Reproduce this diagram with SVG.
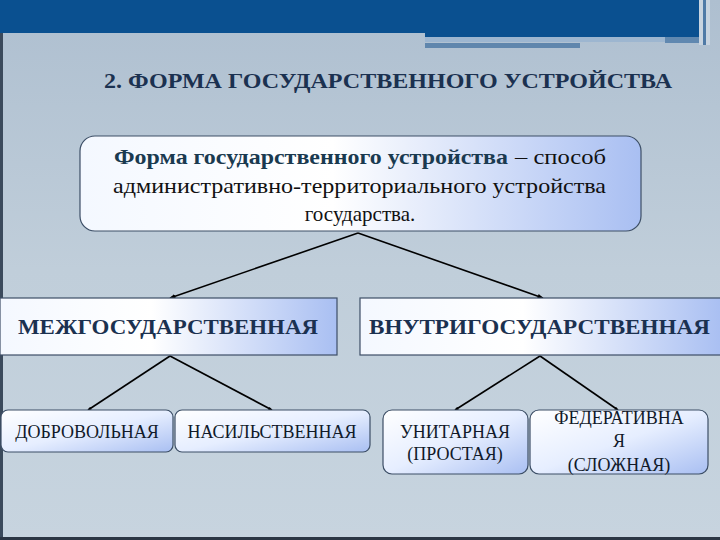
<svg xmlns="http://www.w3.org/2000/svg" width="720" height="540" viewBox="0 0 720 540">
<defs>
<linearGradient id="bg" x1="0" y1="0" x2="0" y2="1">
<stop offset="0" stop-color="#aebfd0"/>
<stop offset="0.5" stop-color="#c0ceda"/>
<stop offset="1" stop-color="#c7d4df"/>
</linearGradient>
<linearGradient id="box" x1="0" y1="0" x2="1" y2="0">
<stop offset="0" stop-color="#f4f8ff"/>
<stop offset="0.45" stop-color="#ffffff"/>
<stop offset="1" stop-color="#a9bff2"/>
</linearGradient>
<linearGradient id="boxv" x1="0" y1="0" x2="1" y2="1">
<stop offset="0" stop-color="#ffffff"/>
<stop offset="0.5" stop-color="#e6eeff"/>
<stop offset="1" stop-color="#a9bff2"/>
</linearGradient>
<marker id="ah" viewBox="0 0 10 10" refX="9" refY="5" markerWidth="6" markerHeight="6" orient="auto" markerUnits="userSpaceOnUse">
<path d="M0,1 L10,5 L0,9 Z" fill="#000"/>
</marker>
<marker id="ahs" viewBox="0 0 10 10" refX="9" refY="5" markerWidth="4" markerHeight="4" orient="auto" markerUnits="userSpaceOnUse">
<path d="M0,1 L10,5 L0,9 Z" fill="#000"/>
</marker>
</defs>
<style>
text{font-family:"Liberation Serif","DejaVu Serif","Times New Roman",serif;}
.title{font-size:22px;font-weight:bold;fill:#1b3150;}
.def{font-size:21px;fill:#111;}
.defb{font-size:21px;font-weight:bold;fill:#1a3a50;}
.mid{font-size:20px;font-weight:bold;fill:#1b3150;}
.leaf{font-size:18px;fill:#111a2a;}
.bx{stroke:#3c4e66;stroke-width:1.2;}
.conn{stroke:#000;stroke-width:1.6;fill:none;}
</style>
<rect x="0" y="0" width="720" height="540" fill="url(#bg)"/>
<g id="banner">
<rect x="0" y="0" width="700" height="33" fill="#0a5090"/>
<rect x="425" y="0" width="275" height="37" fill="#0a5090"/>
<rect x="425" y="37" width="240" height="5" fill="#9db6d0"/>
<rect x="425" y="43" width="155" height="5" fill="#5f86ad"/>
<rect x="665" y="37" width="35" height="6" fill="#6088b0"/>
<rect x="699" y="0" width="4" height="45" fill="#c8d4e0"/>
<rect x="703" y="0" width="3" height="45" fill="#4f7aa6"/>
<rect x="706" y="0" width="4" height="45" fill="#c8d4e0"/>
<rect x="0" y="33" width="3" height="507" fill="#3b4a5c"/>
<rect x="0" y="537" width="720" height="3" fill="#2b3644"/>
</g>
<text class="title" x="104" y="88" textLength="568" lengthAdjust="spacingAndGlyphs">2. ФОРМА ГОСУДАРСТВЕННОГО УСТРОЙСТВА</text>
<g id="connectors">
<line class="conn" x1="358" y1="233" x2="170" y2="298" marker-end="url(#ah)"/>
<line class="conn" x1="358" y1="233" x2="543" y2="298" marker-end="url(#ah)"/>
<line class="conn" x1="170" y1="356" x2="88" y2="410" marker-end="url(#ahs)"/>
<line class="conn" x1="170" y1="356" x2="272" y2="410" marker-end="url(#ahs)"/>
<line class="conn" x1="540" y1="356" x2="455" y2="410" marker-end="url(#ahs)"/>
<line class="conn" x1="540" y1="356" x2="618" y2="410" marker-end="url(#ahs)"/>
</g>
<g id="definition">
<rect class="bx" x="80" y="136" width="561" height="95" rx="15" fill="url(#box)" stroke-width="2"/>
<text class="defb" x="114" y="164" textLength="394" lengthAdjust="spacingAndGlyphs">Форма государственного устройства</text>
<text class="def" x="515" y="164" textLength="91" lengthAdjust="spacingAndGlyphs">– способ</text>
<text class="def" x="113" y="193" textLength="493" lengthAdjust="spacingAndGlyphs">административно-территориального устройства</text>
<text class="def" x="360" y="221" text-anchor="middle">государства.</text>
</g>
<g id="inter">
<rect class="bx" x="0" y="298" width="337" height="57" fill="url(#box)"/>
<text class="mid" x="18" y="334" textLength="300" lengthAdjust="spacingAndGlyphs">МЕЖГОСУДАРСТВЕННАЯ</text>
</g>
<g id="intra">
<rect class="bx" x="360" y="298" width="362" height="57" fill="url(#box)"/>
<text class="mid" x="369" y="334" textLength="341" lengthAdjust="spacingAndGlyphs">ВНУТРИГОСУДАРСТВЕННАЯ</text>
</g>
<g id="voluntary">
<rect class="bx" x="1" y="410" width="172" height="42" rx="7" fill="url(#boxv)"/>
<text class="leaf" x="87" y="438" text-anchor="middle">ДОБРОВОЛЬНАЯ</text>
</g>
<g id="forced">
<rect class="bx" x="175" y="410" width="195" height="42" rx="7" fill="url(#boxv)"/>
<text class="leaf" x="272" y="438" text-anchor="middle">НАСИЛЬСТВЕННАЯ</text>
</g>
<g id="unitary">
<rect class="bx" x="383" y="410" width="145" height="64" rx="9" fill="url(#boxv)"/>
<text class="leaf" x="455" y="438" text-anchor="middle">УНИТАРНАЯ</text>
<text class="leaf" x="455" y="460" text-anchor="middle">(ПРОСТАЯ)</text>
</g>
<g id="federal">
<rect class="bx" x="530" y="410" width="178" height="64" rx="9" fill="url(#boxv)"/>
<text class="leaf" x="619" y="424" text-anchor="middle">ФЕДЕРАТИВНА</text>
<text class="leaf" x="619" y="447" text-anchor="middle">Я</text>
<text class="leaf" x="619" y="471" text-anchor="middle">(СЛОЖНАЯ)</text>
</g>
</svg>
